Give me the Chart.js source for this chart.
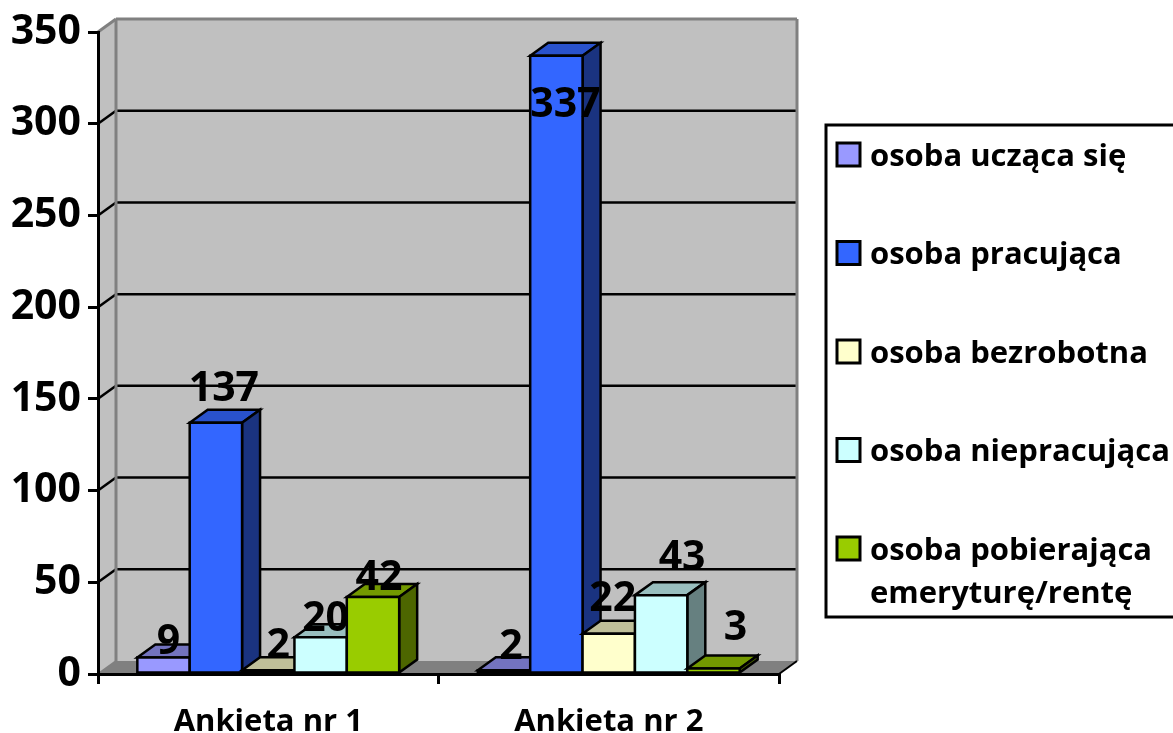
<!DOCTYPE html>
<html>
<head>
<meta charset="utf-8">
<style>
  html, body { margin: 0; padding: 0; background: #fff; }
  canvas { display: block; }
</style>
<script src="https://cdn.jsdelivr.net/npm/chart.js@4/dist/chart.umd.min.js"></script>
</head>
<body>
<canvas id="chart" width="1173" height="733"></canvas>
<script>
const categories = ['Ankieta nr 1', 'Ankieta nr 2'];
const seriesNames = [
  ['osoba ucząca się'],
  ['osoba pracująca'],
  ['osoba bezrobotna'],
  ['osoba niepracująca'],
  ['osoba pobierająca', 'emeryturę/rentę']
];
const uczacaSie = [9, 2];
const pracujaca = [137, 337];
const bezrobotna = [2, 22];
const niepracujaca = [20, 43];
const pobierajaca = [42, 3];
const seriesValues = [uczacaSie, pracujaca, bezrobotna, niepracujaca, pobierajaca];
const yTicks = [0, 50, 100, 150, 200, 250, 300, 350];

const frontColors = ['#9999ff', '#3366ff', '#ffffcc', '#ccffff', '#99cc00'];
const topColors = ['#7373bf', '#2952cc', '#bfbf99', '#99bfbf', '#739900'];
const sideColors = ['#4d4d80', '#1a3380', '#80806a', '#668080', '#4d6600'];

// the labels in the picture were dragged by hand, so each one has its own shift from the bar top
const labelShift = [
  [[5, -17], [7, -25]],
  [[8, -35], [9, 47]],
  [[10, -26], [4, -36]],
  [[5, -20], [21, -39]],
  [[6, -21], [22, -42]]
];

const DX = 18, DY = -13;
const FONT = '"Open Sans", sans-serif';

function poly(ctx, pts, fill, stroke, lw) {
  ctx.beginPath();
  pts.forEach((p, i) => i ? ctx.lineTo(p[0], p[1]) : ctx.moveTo(p[0], p[1]));
  ctx.closePath();
  if (fill) { ctx.fillStyle = fill; ctx.fill(); }
  if (stroke) { ctx.strokeStyle = stroke; ctx.lineWidth = lw; ctx.lineJoin = 'miter'; ctx.stroke(); }
}

function line(ctx, x1, y1, x2, y2, color, lw) {
  ctx.beginPath();
  ctx.moveTo(x1, y1);
  ctx.lineTo(x2, y2);
  ctx.strokeStyle = color;
  ctx.lineWidth = lw;
  ctx.stroke();
}

const walls = {
  id: 'walls',
  beforeDraw(chart) {
    const { ctx, chartArea: a, scales: { y } } = chart;
    ctx.save();
    ctx.fillStyle = '#fff';
    ctx.fillRect(0, 0, chart.width, chart.height);
    // side wall, back wall, floor
    poly(ctx, [[a.left, a.top], [a.left + DX, a.top + DY], [a.left + DX, a.bottom + DY], [a.left, a.bottom]], '#c0c0c0');
    poly(ctx, [[a.left + DX, a.top + DY], [a.right + DX, a.top + DY], [a.right + DX, a.bottom + DY], [a.left + DX, a.bottom + DY]], '#c0c0c0');
    poly(ctx, [[a.left, a.bottom], [a.right, a.bottom], [a.right + DX, a.bottom + DY], [a.left + DX, a.bottom + DY]], '#808080');
    yTicks.forEach(v => {
      if (v === 0 || v === 350) return;
      const py = y.getPixelForValue(v);
      line(ctx, a.left, py, a.left + DX, py + DY, '#000', 2.5);
      line(ctx, a.left + DX, py + DY, a.right + DX, py + DY, '#000', 2.5);
    });
    line(ctx, a.left + DX, a.top + DY, a.left + DX, a.bottom + DY, '#808080', 3);
    line(ctx, a.left + DX, a.top + DY, a.right + DX, a.top + DY, '#808080', 3);
    line(ctx, a.right + DX, a.top + DY, a.right + DX, a.bottom + DY, '#808080', 3);
    line(ctx, a.left, a.top, a.left + DX, a.top + DY, '#808080', 3);
    line(ctx, a.left, a.bottom, a.left + DX, a.bottom + DY, '#808080', 2);
    line(ctx, a.right, a.bottom, a.right + DX, a.bottom + DY, '#000', 2);
    ctx.restore();
  }
};

// Chart.js paints the first series last, but here each bar must cover the one on its left,
// so the series are painted by hand from left to right
const bars3d = {
  id: 'bars3d',
  beforeDatasetsDraw(chart) {
    const { ctx } = chart;
    seriesValues.forEach((vals, s) => {
      const meta = chart.getDatasetMeta(s);
      ctx.save();
      meta.data.forEach(bar => {
        const l = bar.x - bar.width / 2, r = bar.x + bar.width / 2;
        poly(ctx, [[l, bar.y], [l + DX, bar.y + DY], [r + DX, bar.y + DY], [r, bar.y]], topColors[s], '#000', 2.5);
        poly(ctx, [[r, bar.y], [r + DX, bar.y + DY], [r + DX, bar.base + DY], [r, bar.base]], sideColors[s], '#000', 2.5);
      });
      ctx.restore();
      meta.controller.draw();
      // outline centred on the edge, neighbours then share one line
      ctx.save();
      meta.data.forEach(bar => {
        const l = bar.x - bar.width / 2, r = bar.x + bar.width / 2;
        poly(ctx, [[l, bar.y], [r, bar.y], [r, bar.base], [l, bar.base]], null, '#000', 2.5);
      });
      ctx.restore();
    });
    return false;
  }
};

const valueLabels = {
  id: 'valueLabels',
  afterDraw(chart) {
    const { ctx } = chart;
    ctx.save();
    ctx.font = 'bold 41px ' + FONT;
    ctx.fillStyle = '#000';
    ctx.textAlign = 'center';
    ctx.textBaseline = 'middle';
    seriesValues.forEach((vals, s) => {
      chart.getDatasetMeta(s).data.forEach((bar, i) => {
        ctx.fillText(vals[i], bar.x + labelShift[s][i][0], bar.y + labelShift[s][i][1] + 2);
      });
    });
    ctx.restore();
  }
};

const legendBox = {
  id: 'legendBox',
  afterDraw(chart) {
    const { ctx } = chart;
    ctx.save();
    ctx.strokeStyle = '#000';
    ctx.lineWidth = 3;
    // the box runs off the right edge of the picture
    ctx.strokeRect(826, 125, 360, 492);
    ctx.font = 'bold 31px ' + FONT;
    ctx.textBaseline = 'middle';
    seriesNames.forEach((lines, s) => {
      const cy = 155 + s * 98.5;
      ctx.fillStyle = frontColors[s];
      ctx.fillRect(837, cy - 12, 23, 23);
      ctx.strokeRect(837, cy - 12, 23, 23);
      ctx.fillStyle = '#000';
      lines.forEach((t, k) => ctx.fillText(t, 870, cy + 2 + k * 43));
    });
    ctx.restore();
  }
};

new Chart(document.getElementById('chart'), {
  type: 'bar',
  data: {
    labels: categories,
    datasets: seriesValues.map((vals, s) => ({
      label: seriesNames[s].join(' '),
      data: vals,
      backgroundColor: frontColors[s],
      borderWidth: 0
    }))
  },
  options: {
    responsive: false,
    animation: false,
    layout: { padding: { top: 32, right: 394, left: 0, bottom: 0 } },
    datasets: { bar: { categoryPercentage: 0.769, barPercentage: 1 } },
    plugins: { legend: { display: false }, tooltip: { enabled: false } },
    scales: {
      x: {
        afterFit(scale) { scale.height = 59; },
        border: { color: '#000', width: 3 },
        grid: { drawOnChartArea: false, color: '#000', lineWidth: 3, tickLength: 10 },
        ticks: { color: '#000', font: { family: FONT, weight: 'bold', size: 31 }, padding: 20, maxRotation: 0 }
      },
      y: {
        min: 0,
        max: 350,
        afterFit(scale) { scale.width = 98; },
        afterBuildTicks(scale) { scale.ticks = yTicks.map(v => ({ value: v })); },
        border: { color: '#000', width: 3 },
        grid: { drawOnChartArea: false, color: '#000', lineWidth: 3, tickLength: 10 },
        ticks: { color: '#000', font: { family: FONT, weight: 'bold', size: 41 }, padding: 7 }
      }
    }
  },
  plugins: [walls, bars3d, valueLabels, legendBox]
});
</script>
</body>
</html>
